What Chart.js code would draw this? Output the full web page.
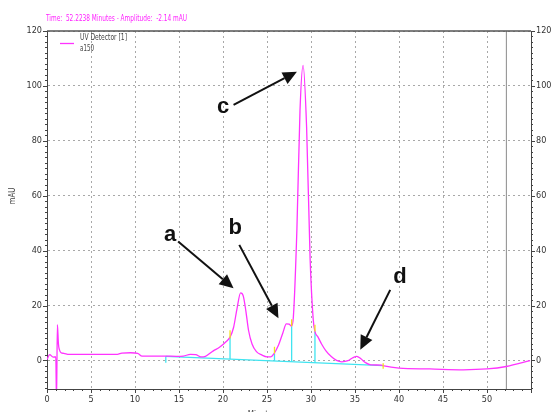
<!DOCTYPE html>
<html><head><meta charset="utf-8">
<script src="https://cdn.jsdelivr.net/npm/chart.js@4/dist/chart.umd.min.js"></script>
<style>html,body{margin:0;padding:0;background:#fff}</style>
</head><body>
<canvas id="c" width="560" height="412"></canvas>
<script>
// ---- data ----
const timeMin = [0, 0.3, 0.7, 1.0, 1.08, 1.18, 1.3, 1.4, 1.6, 1.9, 2.5, 5, 8, 8.5, 9.5, 10.3, 10.8, 12, 13.5, 14.7, 15.5, 16.3, 16.9, 17.5, 18.0, 18.9, 19.6, 20.4, 20.8, 21.2, 21.6, 22.0, 22.3, 22.6, 22.9, 23.3, 23.8, 24.4, 25.0, 25.4, 25.8, 26.3, 26.8, 27.2, 27.5, 27.8, 28.0, 28.4, 28.75, 29.1, 29.5, 29.9, 30.25, 30.45, 30.8, 31.2, 31.7, 32.3, 32.9, 33.5, 34.2, 34.7, 35.2, 35.7, 36.2, 36.8, 38.0, 38.3, 40.0, 43.5, 47.3, 50.0, 52.2, 54.9];
const signal  = [0.3, 2.1, 1.2, 1.3, -15, 13, 6, 4, 2.8, 2.6, 2.2, 2.2, 2.2, 2.7, 2.8, 2.6, 1.6, 1.6, 1.6, 1.5, 1.6, 2.2, 2.1, 1.3, 1.5, 3.5, 4.8, 7.0, 8.5, 12, 19, 24.6, 23.5, 18, 11, 6, 3.2, 2.0, 1.3, 1.3, 2.5, 5.5, 10, 13.3, 13.2, 12.5, 16, 48, 91, 107.5, 85, 37, 15, 10.5, 8.5, 6, 3.5, 1.4, 0.0, -0.5, -0.1, 0.9, 1.5, 0.5, -0.8, -1.6, -1.7, -2.0, -2.8, -3.1, -3.4, -3.1, -2.2, -0.1];

const baselineX = [13.5, 38.2];
const baselineY = [1.5, -1.9];
const dropX    = [13.5, 20.8, 25.85, 27.8, 30.45];
const dropLow  = [-0.8, 0.49, -0.2, -0.47, -0.83];
const dropHigh = [1.5, 8.5, 2.5, 12.5, 10.5];
const markX    = [20.8, 25.85, 27.8, 30.45, 38.2];
const markLow  = [8, 2.5, 12.5, 10.5, -3];
const markHigh = [11, 5, 15, 13, -1];
const cursorX = [52.2];

const xTicks = [0, 5, 10, 15, 20, 25, 30, 35, 40, 45, 50];
const yTicks = [0, 20, 40, 60, 80, 100, 120];

const peakLabels = ['a', 'b', 'c', 'd'];
const labelX = [14.0, 21.4, 20.0, 40.1];
const labelY = [45.8, 48.2, 92.5, 30.6];
const arrowFromX = [14.9, 21.85, 21.2, 39.0];
const arrowFromY = [43.3, 42.1, 93.1, 25.7];
const arrowToX = [21.2, 26.3, 28.4, 35.6];
const arrowToY = [26.3, 15.4, 105.2, 3.9];

const titleText = 'Time:  52.2238 Minutes - Amplitude:  -2.14 mAU';
const legendLines = ['UV Detector [1]', 'a150'];
const yTitle = 'mAU';
const xTitle = 'Minutes';

// ---- build datasets ----
const Y_MIN = -10.4, Y_MAX = 120, X_MIN = 0, X_MAX = 55;
const mainData = timeMin.map((t, i) => ({x: t, y: signal[i]}));
function segs(xs, lo, hi) {
  const out = [];
  xs.forEach((x, i) => { out.push({x, y: lo[i]}, {x, y: hi[i]}, {x, y: null}); });
  return out;
}
const baseData = baselineX.map((x, i) => ({x, y: baselineY[i]}));
const dropData = segs(dropX, dropLow, dropHigh);
const markData = segs(markX, markLow, markHigh);
const cursorData = segs(cursorX, [Y_MIN], [Y_MAX]);

const FONT = "'Liberation Sans Narrow', 'DejaVu Sans Condensed', 'Liberation Sans', Arial, sans-serif";

function fitText(ctx, text, x, y, width) {
  const w = ctx.measureText(text).width;
  const s = Math.min(1.3, width / w);
  ctx.save(); ctx.translate(x, y); ctx.scale(s, 1); ctx.fillText(text, 0, 0); ctx.restore();
}

const decor = {
  id: 'decor',
  afterDraw(chart) {
    const ctx = chart.ctx, a = chart.chartArea, xs = chart.scales.x, ys = chart.scales.y;
    ctx.save();
    // minor/major ticks
    ctx.strokeStyle = '#444'; ctx.lineWidth = 1;
    ctx.beginPath();
    for (let v = 0; v <= 55; v += 1) {
      const px = Math.round(xs.getPixelForValue(v)) + 0.5;
      const len = v % 5 === 0 ? 4 : 2;
      ctx.moveTo(px, a.bottom); ctx.lineTo(px, a.bottom + len);
    }
    for (let v = -10; v <= 120; v += 2) {
      const py = Math.round(ys.getPixelForValue(v)) + 0.5;
      const len = v % 20 === 0 ? 4 : 2;
      ctx.moveTo(a.left - len, py); ctx.lineTo(a.left, py);
      ctx.moveTo(a.right, py); ctx.lineTo(a.right + len, py);
    }
    ctx.stroke();
    // top border
    ctx.strokeStyle = '#555'; ctx.lineWidth = 1.5;
    ctx.beginPath(); ctx.moveTo(a.left, a.top); ctx.lineTo(a.right, a.top); ctx.stroke();

    // title
    ctx.fillStyle = '#ff22ff';
    ctx.font = '8px ' + FONT;
    ctx.textBaseline = 'middle'; ctx.textAlign = 'left';
    fitText(ctx, titleText, 46, 19, 141);

    // legend
    ctx.strokeStyle = '#ff33ff'; ctx.lineWidth = 1.3;
    ctx.beginPath(); ctx.moveTo(60, 43.5); ctx.lineTo(74, 43.5); ctx.stroke();
    ctx.fillStyle = '#444';
    fitText(ctx, legendLines[0], 80, 38, 47);
    fitText(ctx, legendLines[1], 80, 48.5, 14);

    // axis titles
    ctx.save();
    ctx.translate(13, 196); ctx.rotate(-Math.PI / 2);
    ctx.textAlign = 'center';
    ctx.fillText(yTitle, 0, 0);
    ctx.restore();
    ctx.textAlign = 'center';
    ctx.fillText(xTitle, 262, 415);

    // annotations
    ctx.fillStyle = '#111'; ctx.strokeStyle = '#111';
    ctx.font = "bold 22px 'Liberation Sans', Arial, sans-serif";
    ctx.textAlign = 'center'; ctx.textBaseline = 'middle';
    peakLabels.forEach((t, i) => {
      ctx.fillText(t, xs.getPixelForValue(labelX[i]), ys.getPixelForValue(labelY[i]));
      const x1 = xs.getPixelForValue(arrowFromX[i]), y1 = ys.getPixelForValue(arrowFromY[i]);
      const x2 = xs.getPixelForValue(arrowToX[i]), y2 = ys.getPixelForValue(arrowToY[i]);
      const ang = Math.atan2(y2 - y1, x2 - x1);
      const hl = 14, hw = 6.5;
      const bx = x2 - hl * Math.cos(ang), by = y2 - hl * Math.sin(ang);
      ctx.lineWidth = 2;
      ctx.beginPath(); ctx.moveTo(x1, y1); ctx.lineTo(bx, by); ctx.stroke();
      ctx.beginPath();
      ctx.moveTo(x2, y2);
      ctx.lineTo(bx + hw * Math.sin(ang), by - hw * Math.cos(ang));
      ctx.lineTo(bx - hw * Math.sin(ang), by + hw * Math.cos(ang));
      ctx.closePath(); ctx.fill();
    });
    ctx.restore();
  }
};

const tickFont = {family: FONT, size: 9};
new Chart(document.getElementById('c'), {
  type: 'scatter',
  data: {
    datasets: [
      {data: cursorData, showLine: true, borderColor: '#8a8a8a', borderWidth: 1, pointRadius: 0, spanGaps: false, order: 5},
      {data: baseData, showLine: true, borderColor: '#40e4f0', borderWidth: 1.3, pointRadius: 0, order: 4},
      {data: dropData, showLine: true, borderColor: '#40e4f0', borderWidth: 1.3, pointRadius: 0, spanGaps: false, order: 3},
      {data: mainData, showLine: true, borderColor: '#ff33ff', borderWidth: 1.3, pointRadius: 0, cubicInterpolationMode: 'monotone', order: 2},
      {data: markData, showLine: true, borderColor: '#f2e21a', borderWidth: 1.3, pointRadius: 0, spanGaps: false, order: 1}
    ]
  },
  options: {
    responsive: false, animation: false,
    layout: {padding: {top: 31, left: 0, right: 0, bottom: 0}},
    plugins: {legend: {display: false}, tooltip: {enabled: false}, title: {display: false}},
    scales: {
      x: {
        type: 'linear', position: 'bottom', min: X_MIN, max: X_MAX,
        afterFit: s => { s.height = 23; },
        afterBuildTicks: s => { s.ticks = xTicks.map(v => ({value: v})); },
        ticks: {font: tickFont, color: '#333', padding: 5, maxRotation: 0, autoSkip: false},
        grid: {color: '#a8a8a8', lineWidth: 1, drawTicks: false},
        border: {color: '#444', width: 1, dash: [2, 3]}
      },
      y: {
        type: 'linear', position: 'left', min: Y_MIN, max: Y_MAX,
        afterFit: s => { s.width = 47; },
        afterBuildTicks: s => { s.ticks = yTicks.map(v => ({value: v})); },
        ticks: {font: tickFont, color: '#333', padding: 5, autoSkip: false},
        grid: {color: '#a8a8a8', lineWidth: 1, drawTicks: false},
        border: {color: '#444', width: 1, dash: [2, 3]}
      },
      y2: {
        type: 'linear', position: 'right', min: Y_MIN, max: Y_MAX,
        afterFit: s => { s.width = 29; },
        afterBuildTicks: s => { s.ticks = yTicks.map(v => ({value: v})); },
        ticks: {font: tickFont, color: '#333', padding: 5, autoSkip: false},
        grid: {display: false, drawTicks: false},
        border: {color: '#444', width: 1}
      }
    }
  },
  plugins: [decor]
});
</script>
</body></html>
